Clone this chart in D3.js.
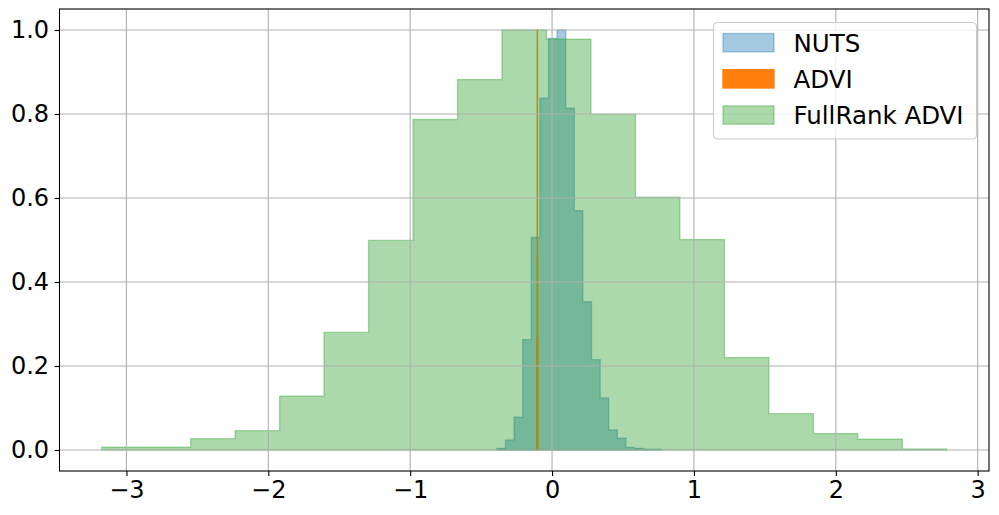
<!DOCTYPE html>
<html>
<head>
<meta charset="utf-8">
<script src="https://cdn.jsdelivr.net/npm/d3@7"></script>
<style>
    body { margin: 0; background: #fff; }
    text { font-family: "DejaVu Sans", sans-serif; fill: #000; }
</style>
</head>
<body>
<div id="chart"></div>
<script>
// histogram bin edges and normalised heights
let nutsEdges = [-0.389, -0.328, -0.268, -0.207, -0.146, -0.086, -0.025, 0.035, 0.096, 0.157,
    0.217, 0.278, 0.339, 0.399, 0.460, 0.521, 0.581, 0.642, 0.702, 0.763];
let nutsHeights = [0.004, 0.024, 0.078, 0.263, 0.506, 0.838, 0.98, 1.0, 0.814, 0.570,
    0.353, 0.215, 0.124, 0.048, 0.028, 0.0064, 0.004, 0.0017, 0.0017];

let advEdges = [-0.1080, -0.1075, -0.1070, -0.1065, -0.1060, -0.1055, -0.1050, -0.1045, -0.1040, -0.1035,
    -0.1030, -0.1025, -0.1020, -0.1015, -0.1010, -0.1005, -0.1000, -0.0995, -0.0990, -0.0985];
let advHeights = [0.26, 0.27, 0.27, 0.45, 0.46, 0.46, 0.47, 0.95, 1.0, 0.96,
    0.47, 0.46, 0.45, 0.45, 0.27, 0.27, 0.26, 0.26, 0.26];

let fullEdges = [-3.174, -2.861, -2.547, -2.234, -1.920, -1.607, -1.293, -0.980, -0.666, -0.353,
    -0.039, 0.274, 0.588, 0.901, 1.215, 1.528, 1.842, 2.155, 2.469, 2.782];
let fullHeights = [0.007, 0.007, 0.027, 0.046, 0.128, 0.28, 0.499, 0.787, 0.882, 1.0,
    0.978, 0.799, 0.602, 0.501, 0.22, 0.0865, 0.039, 0.026, 0.0024];

let seriesNames = ["NUTS", "ADVI", "FullRank ADVI"];
let xTicks = [-3, -2, -1, 0, 1, 2, 3];
let yTicks = [0, 0.2, 0.4, 0.6, 0.8, 1.0];

const width = 999, height = 515;
const margin = {top: 9, right: 10, bottom: 44, left: 59.5};
const colors = {NUTS: "#1f77b4", ADVI: "#ff7f0e", "FullRank ADVI": "#2ca02c"};
const alphas = {NUTS: 0.4, ADVI: 1, "FullRank ADVI": 0.4};

let svg = d3.select("#chart").append("svg")
    .attr("width", width)
    .attr("height", height);

// x range padded by 5% like matplotlib
let xMin = d3.min(fullEdges), xMax = d3.max(fullEdges);
let pad = (xMax - xMin) * 0.05;
let xScale = d3.scaleLinear()
    .domain([xMin - pad, xMax + pad])
    .range([margin.left, width - margin.right]);
let yScale = d3.scaleLinear()
    .domain([-0.05, 1.05])
    .range([height - margin.bottom, margin.top]);

// step-filled histogram path
function histPath(edges, heights) {
    let pts = edges.map((e, i) => [e, heights[Math.min(i, heights.length - 1)]]);
    return d3.area()
        .x(d => xScale(d[0]))
        .y0(yScale(0))
        .y1(d => yScale(d[1]))
        .curve(d3.curveStepAfter)(pts);
}

let hists = [
    {name: "NUTS", edges: nutsEdges, heights: nutsHeights},
    {name: "ADVI", edges: advEdges, heights: advHeights},
    {name: "FullRank ADVI", edges: fullEdges, heights: fullHeights}
];

let plot = svg.append("g");
plot.selectAll("path.hist")
    .data(hists)
    .enter()
    .append("path")
    .attr("class", "hist")
    .attr("d", d => histPath(d.edges, d.heights))
    .attr("fill", d => colors[d.name])
    .attr("fill-opacity", d => alphas[d.name])
    .attr("stroke", d => colors[d.name])
    .attr("stroke-opacity", d => alphas[d.name])
    .attr("stroke-width", 1.33)
    .attr("stroke-linejoin", "miter");

// grid drawn above the patches
let grid = svg.append("g").attr("stroke", "#b0b0b0").attr("stroke-width", 1.1);
grid.selectAll(".gx").data(xTicks).enter().append("line")
    .attr("x1", d => xScale(d)).attr("x2", d => xScale(d))
    .attr("y1", margin.top).attr("y2", height - margin.bottom);
grid.selectAll(".gy").data(yTicks).enter().append("line")
    .attr("x1", margin.left).attr("x2", width - margin.right)
    .attr("y1", d => yScale(d)).attr("y2", d => yScale(d));

// axes
let xAxis = svg.append("g")
    .attr("transform", "translate(0," + (height - margin.bottom) + ")")
    .call(d3.axisBottom(xScale).tickValues(xTicks).tickSize(4.9).tickPadding(5).tickFormat(d3.format("d")));
let yAxis = svg.append("g")
    .attr("transform", "translate(" + margin.left + ",0)")
    .call(d3.axisLeft(yScale).tickValues(yTicks).tickSize(4.9).tickPadding(5.5).tickFormat(d3.format(".1f")));
[xAxis, yAxis].forEach(a => {
    a.select(".domain").remove();
    a.selectAll("line").attr("stroke", "#000").attr("stroke-width", 1.1);
    a.selectAll("text").attr("font-size", "24px").attr("font-family", "DejaVu Sans");
});

// frame
svg.append("rect")
    .attr("x", margin.left).attr("y", margin.top)
    .attr("width", width - margin.right - margin.left)
    .attr("height", height - margin.bottom - margin.top)
    .attr("fill", "none").attr("stroke", "#000").attr("stroke-width", 1.1);

// legend
let legend = svg.append("g").attr("transform", "translate(713.5,22.5)");
legend.append("rect")
    .attr("width", 263).attr("height", 116.5).attr("rx", 4)
    .attr("fill", "#fff").attr("fill-opacity", 0.8)
    .attr("stroke", "#cccccc").attr("stroke-width", 1.1);
let items = legend.selectAll(".item")
    .data(seriesNames)
    .enter()
    .append("g")
    .attr("transform", (d, i) => "translate(9.5," + (11 + i * 36.2) + ")");
items.append("rect")
    .attr("width", 51).attr("height", 18.3)
    .attr("fill", d => colors[d]).attr("fill-opacity", d => alphas[d])
    .attr("stroke", d => colors[d]).attr("stroke-opacity", d => alphas[d])
    .attr("stroke-width", 1.33);
items.append("text")
    .attr("x", 70.5).attr("y", 18)
    .attr("font-size", "24.5px")
    .text(d => d);
</script>
</body>
</html>
